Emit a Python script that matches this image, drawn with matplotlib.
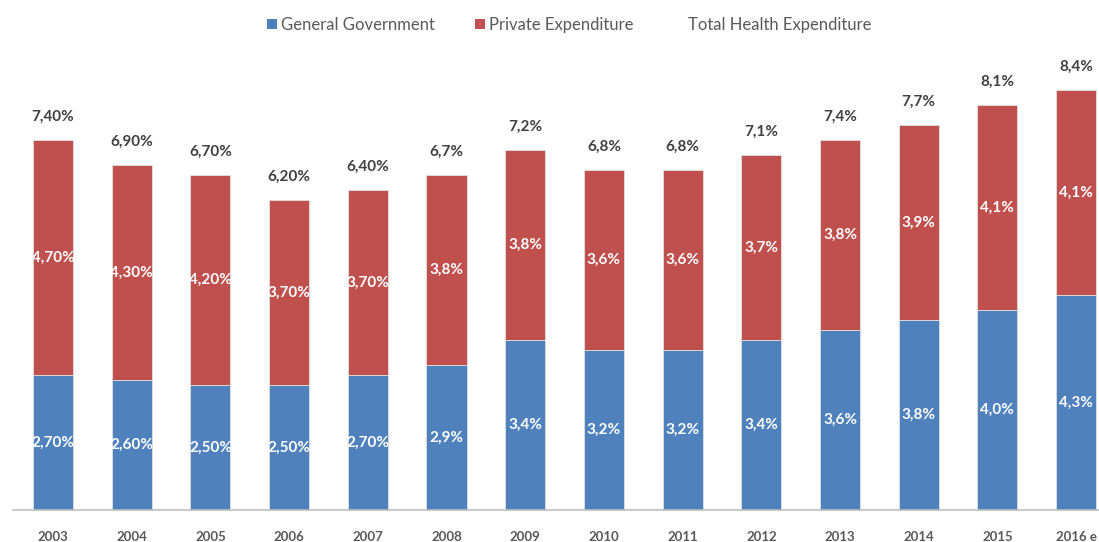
import matplotlib
matplotlib.use("Agg")
import matplotlib.pyplot as plt
from matplotlib.patches import Patch
import numpy as np

plt.rcParams['font.family'] = ['Lato', 'DejaVu Sans']

years = ["2003", "2004", "2005", "2006", "2007", "2008", "2009", "2010",
         "2011", "2012", "2013", "2014", "2015", "2016 e"]
government = [2.7, 2.6, 2.5, 2.5, 2.7, 2.9, 3.4, 3.2, 3.2, 3.4, 3.6, 3.8, 4.0, 4.3]
private = [4.7, 4.3, 4.2, 3.7, 3.7, 3.8, 3.8, 3.6, 3.6, 3.7, 3.8, 3.9, 4.1, 4.1]
total = [7.4, 6.9, 6.7, 6.2, 6.4, 6.7, 7.2, 6.8, 6.8, 7.1, 7.4, 7.7, 8.1, 8.4]
gov_labels = ["2,70%", "2,60%", "2,50%", "2,50%", "2,70%", "2,9%", "3,4%", "3,2%",
              "3,2%", "3,4%", "3,6%", "3,8%", "4,0%", "4,3%"]
priv_labels = ["4,70%", "4,30%", "4,20%", "3,70%", "3,70%", "3,8%", "3,8%", "3,6%",
               "3,6%", "3,7%", "3,8%", "3,9%", "4,1%", "4,1%"]
total_labels = ["7,40%", "6,90%", "6,70%", "6,20%", "6,40%", "6,7%", "7,2%", "6,8%",
                "6,8%", "7,1%", "7,4%", "7,7%", "8,1%", "8,4%"]

blue = "#4F81BD"
red = "#C0504D"
gray = "#595959"

fig = plt.figure(figsize=(10.99, 5.42), dpi=100)
ax = fig.add_axes([0, 32 / 542, 1, 510 / 542])

x = np.arange(len(years))
w = 0.51
ax.bar(x, government, width=w, color=blue, edgecolor="#e0e0e0", linewidth=0.6)
ax.bar(x, private, width=w, bottom=government, color=red, edgecolor="#e0e0e0", linewidth=0.6)

for i in range(len(years)):
    ax.text(x[i], government[i] / 2, gov_labels[i], ha="center", va="center",
            color="white", fontsize=11, fontweight="bold")
    ax.text(x[i], government[i] + private[i] / 2, priv_labels[i], ha="center", va="center",
            color="white", fontsize=11, fontweight="bold")
    ax.text(x[i], total[i] + 0.46, total_labels[i], ha="center", va="center",
            color="#404040", fontsize=11, fontweight="bold")

step = 78.7
x0 = 53
ax.set_xlim(-x0 / step, (1099 - x0) / step)
ax.set_ylim(0, 10.2)
ax.set_xticks(x)
ax.set_xticklabels(years, fontsize=9.5, fontweight="bold", color=gray)
ax.tick_params(axis="x", length=0, pad=15)
ax.set_yticks([])
for s in ["top", "right", "left"]:
    ax.spines[s].set_visible(False)
ax.spines["bottom"].set_color("#bfbfbf")
ax.spines["bottom"].set_linewidth(1.2)
ax.spines["bottom"].set_bounds((13 - x0) / step, (1099 - x0) / step)

handles = [Patch(facecolor=blue), Patch(facecolor=red),
           Patch(facecolor="none", edgecolor="none")]
fig.legend(handles, ["General Government", "Private Expenditure", "Total Health Expenditure"],
           loc="center", bbox_to_anchor=(0.518, 1 - 25 / 542), ncol=3, frameon=False,
           handlelength=0.6, handleheight=0.6, handletextpad=0.25, columnspacing=2.4,
           fontsize=12, labelcolor=gray)

fig.savefig("out.png", dpi=100)
